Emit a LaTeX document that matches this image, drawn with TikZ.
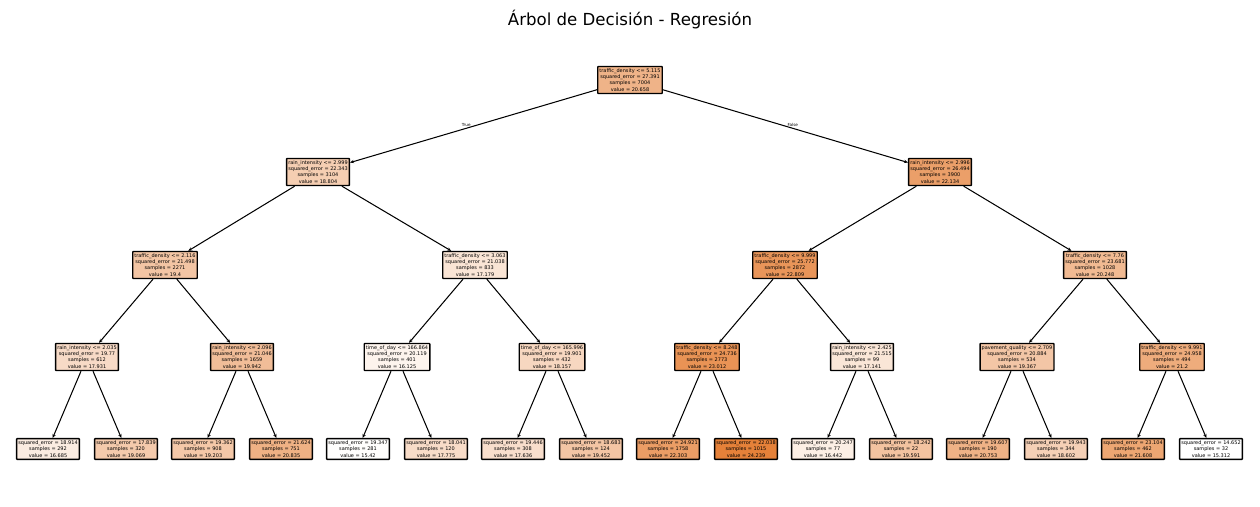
\documentclass[tikz,border=0pt]{standalone}
\usepackage{fontspec}
\setmainfont{DejaVu Sans}
\usetikzlibrary{arrows.meta}

\definecolor{tone}{RGB}{229,129,57}
\tikzset{
  box/.style={draw=black,line width=1pt,rounded corners=0.4pt,align=center,
    inner xsep=1.2pt,inner ysep=1.6pt,font=\fontsize{3.6}{4.5}\selectfont},
  link/.style={line width=0.75pt,-{Stealth[length=2.8pt,width=2.4pt]}},
  side/.style={font=\fontsize{3}{3.5}\selectfont,inner sep=0.6pt,above}
}

\begin{document}
\begin{tikzpicture}[x=0.0254cm,y=-0.0254cm]
    \useasboundingbox (0,0) rectangle (1260,506);
    \node[font=\fontsize{12}{14}\selectfont] (title) at (630,20) {Árbol de Decisión - Regresión};

    % root and first split
    \node[box,fill=tone!60!white] (t) at (630,80) {traffic\_density <= 5.115\\squared\_error = 27.391\\samples = 7004\\value = 20.658};
    \node[box,fill=tone!39!white] (ta) at (318,172) {rain\_intensity <= 2.999\\squared\_error = 22.343\\samples = 3104\\value = 18.804};
    \node[box,fill=tone!76!white] (tb) at (940,172) {rain\_intensity <= 2.996\\squared\_error = 26.494\\samples = 3900\\value = 22.134};

    % depth 2
    \node[box,fill=tone!46!white] (taa) at (165,265) {traffic\_density <= 2.116\\squared\_error = 21.498\\samples = 2271\\value = 19.4};
    \node[box,fill=tone!21!white] (tab) at (475,265) {traffic\_density <= 3.063\\squared\_error = 21.038\\samples = 833\\value = 17.179};
    \node[box,fill=tone!84!white] (tba) at (785,265) {traffic\_density <= 9.999\\squared\_error = 25.772\\samples = 2872\\value = 22.809};
    \node[box,fill=tone!55!white] (tbb) at (1095,265) {traffic\_density <= 7.76\\squared\_error = 23.681\\samples = 1028\\value = 20.248};

    % depth 3
    \node[box,fill=tone!29!white] (taaa) at (87,357) {rain\_intensity <= 2.035\\squared\_error = 19.77\\samples = 612\\value = 17.931};
    \node[box,fill=tone!52!white] (taab) at (242,357) {rain\_intensity <= 2.096\\squared\_error = 21.046\\samples = 1659\\value = 19.942};
    \node[box,fill=tone!9!white] (taba) at (397,357) {time\_of\_day <= 166.864\\squared\_error = 20.119\\samples = 401\\value = 16.125};
    \node[box,fill=tone!32!white] (tabb) at (552,357) {time\_of\_day <= 165.996\\squared\_error = 19.901\\samples = 432\\value = 18.157};
    \node[box,fill=tone!86!white] (tbaa) at (707,357) {traffic\_density <= 8.248\\squared\_error = 24.736\\samples = 2773\\value = 23.012};
    \node[box,fill=tone!20!white] (tbab) at (862,357) {rain\_intensity <= 2.425\\squared\_error = 21.515\\samples = 99\\value = 17.141};
    \node[box,fill=tone!45!white] (tbba) at (1017,357) {pavement\_quality <= 2.709\\squared\_error = 20.884\\samples = 534\\value = 19.367};
    \node[box,fill=tone!66!white] (tbbb) at (1172,357) {traffic\_density <= 9.991\\squared\_error = 24.958\\samples = 494\\value = 21.2};

    % leaves
    \node[box,fill=tone!15!white] (taaaa) at (48,449) {squared\_error = 18.914\\samples = 292\\value = 16.685};
    \node[box,fill=tone!42!white] (taaab) at (126,449) {squared\_error = 17.839\\samples = 320\\value = 19.069};
    \node[box,fill=tone!44!white] (taaba) at (203,449) {squared\_error = 19.362\\samples = 908\\value = 19.203};
    \node[box,fill=tone!62!white] (taabb) at (281,449) {squared\_error = 21.624\\samples = 751\\value = 20.835};
    \node[box,fill=tone!1!white] (tabaa) at (358,449) {squared\_error = 19.347\\samples = 281\\value = 15.42};
    \node[box,fill=tone!28!white] (tabab) at (436,449) {squared\_error = 18.041\\samples = 120\\value = 17.775};
    \node[box,fill=tone!26!white] (tabba) at (513,449) {squared\_error = 19.446\\samples = 308\\value = 17.636};
    \node[box,fill=tone!46!white] (tabbb) at (591,449) {squared\_error = 18.683\\samples = 124\\value = 19.452};
    \node[box,fill=tone!78!white] (tbaaa) at (668,449) {squared\_error = 24.921\\samples = 1758\\value = 22.303};
    \node[box,fill=tone] (tbaab) at (746,449) {squared\_error = 22.038\\samples = 1015\\value = 24.239};
    \node[box,fill=tone!13!white] (tbaba) at (823,449) {squared\_error = 20.247\\samples = 77\\value = 16.442};
    \node[box,fill=tone!48!white] (tbabb) at (901,449) {squared\_error = 18.242\\samples = 22\\value = 19.591};
    \node[box,fill=tone!61!white] (tbbaa) at (978,449) {squared\_error = 19.607\\samples = 190\\value = 20.753};
    \node[box,fill=tone!37!white] (tbbab) at (1056,449) {squared\_error = 19.943\\samples = 344\\value = 18.602};
    \node[box,fill=tone!71!white] (tbbba) at (1133,449) {squared\_error = 23.104\\samples = 462\\value = 21.608};
    \node[box,fill=white] (tbbbb) at (1211,449) {squared\_error = 14.652\\samples = 32\\value = 15.312};

    % links
    \draw[link] (t) -- node[side,pos=0.53] {True} (ta);
    \draw[link] (t) -- node[side,pos=0.53] {False} (tb);
    \draw[link] (ta) -- (taa);
    \draw[link] (ta) -- (tab);
    \draw[link] (tb) -- (tba);
    \draw[link] (tb) -- (tbb);
    \draw[link] (taa) -- (taaa);
    \draw[link] (taa) -- (taab);
    \draw[link] (tab) -- (taba);
    \draw[link] (tab) -- (tabb);
    \draw[link] (tba) -- (tbaa);
    \draw[link] (tba) -- (tbab);
    \draw[link] (tbb) -- (tbba);
    \draw[link] (tbb) -- (tbbb);
    \draw[link] (taaa) -- (taaaa);
    \draw[link] (taaa) -- (taaab);
    \draw[link] (taab) -- (taaba);
    \draw[link] (taab) -- (taabb);
    \draw[link] (taba) -- (tabaa);
    \draw[link] (taba) -- (tabab);
    \draw[link] (tabb) -- (tabba);
    \draw[link] (tabb) -- (tabbb);
    \draw[link] (tbaa) -- (tbaaa);
    \draw[link] (tbaa) -- (tbaab);
    \draw[link] (tbab) -- (tbaba);
    \draw[link] (tbab) -- (tbabb);
    \draw[link] (tbba) -- (tbbaa);
    \draw[link] (tbba) -- (tbbab);
    \draw[link] (tbbb) -- (tbbba);
    \draw[link] (tbbb) -- (tbbbb);
\end{tikzpicture}
\end{document}
